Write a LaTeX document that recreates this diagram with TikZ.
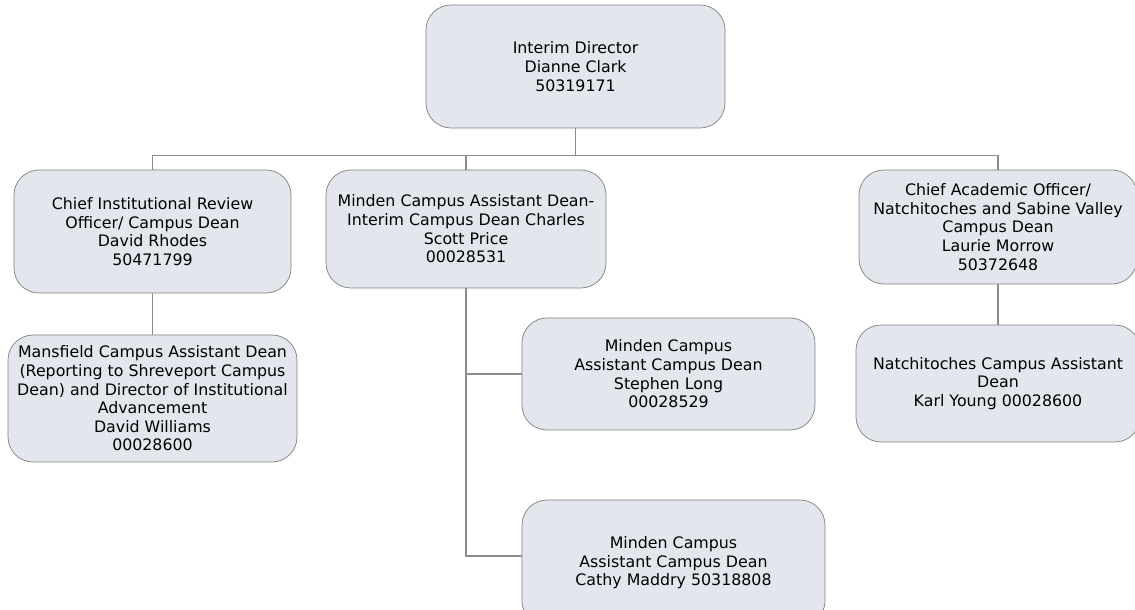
\documentclass[tikz,border=0pt]{standalone}
\usepackage{fontspec}
\setmainfont{DejaVu Sans}
\usepackage{xcolor}
\usepackage{tikz}
\usetikzlibrary{positioning, calc}
\definecolor{boxgray}{RGB}{227, 231, 237}
\definecolor{edgegray}{RGB}{128, 128, 128}
\definecolor{linegray}{RGB}{140, 140, 140}

\begin{document}
\begin{tikzpicture}[
    orgbox/.style={rectangle, rounded corners=0.5cm, draw=edgegray, fill=boxgray, align=center, font=\fontsize{9}{10.6}\selectfont, inner sep=2pt},
    link/.style={draw=linegray, line width=0.6pt}
]
    \useasboundingbox (0, 0) rectangle (22.7, 12.18);

    % Top level
    \node[orgbox, minimum width=5.98cm, minimum height=2.46cm] (director) at (11.51, 10.85) {Interim Director\\Dianne Clark\\50319171};

    % Second level
    \node[orgbox, minimum width=5.54cm, minimum height=2.46cm] (review) at (3.05, 7.55) {Chief Institutional Review\\Officer/ Campus Dean\\David Rhodes\\50471799};
    \node[orgbox, minimum width=5.6cm, minimum height=2.36cm] (minden) at (9.32, 7.60) {Minden Campus Assistant Dean-\\Interim Campus Dean Charles\\Scott Price\\00028531};
    \node[orgbox, minimum width=5.56cm, minimum height=2.28cm] (academic) at (19.96, 7.64) {Chief Academic Officer/\\Natchitoches and Sabine Valley\\Campus Dean\\Laurie Morrow\\50372648};

    % Third level
    \node[orgbox, minimum width=5.78cm, minimum height=2.54cm] (mansfield) at (3.05, 4.21) {Mansfield Campus Assistant Dean\\(Reporting to Shreveport Campus\\Dean) and Director of Institutional\\Advancement\\David Williams\\00028600};
    \node[orgbox, minimum width=5.86cm, minimum height=2.24cm] (stephen) at (13.37, 4.70) {Minden Campus\\Assistant Campus Dean\\Stephen Long\\00028529};
    \node[orgbox, minimum width=6.06cm, minimum height=2.52cm] (cathy) at (13.47, 0.92) {Minden Campus\\Assistant Campus Dean\\Cathy Maddry 50318808};
    \node[orgbox, minimum width=5.68cm, minimum height=2.34cm] (karl) at (19.96, 4.51) {Natchitoches Campus Assistant\\Dean\\Karl Young 00028600};

    % Connectors
    \coordinate (bus) at (0, 9.07);
    \draw[link] (director.south) -- (director.south |- bus);
    \draw[link] (review.north) -- (review.north |- bus) -- (academic.north |- bus) -- (academic.north);
    \draw[link] (minden.north) -- (minden.north |- bus);

    \draw[link] (review) -- (mansfield);
    \draw[link] (academic) -- (karl);
    \draw[link] (minden.south) |- (stephen.west);
    \draw[link] (minden.south) |- ([yshift=0.14cm]cathy.west);

\end{tikzpicture}
\end{document}
